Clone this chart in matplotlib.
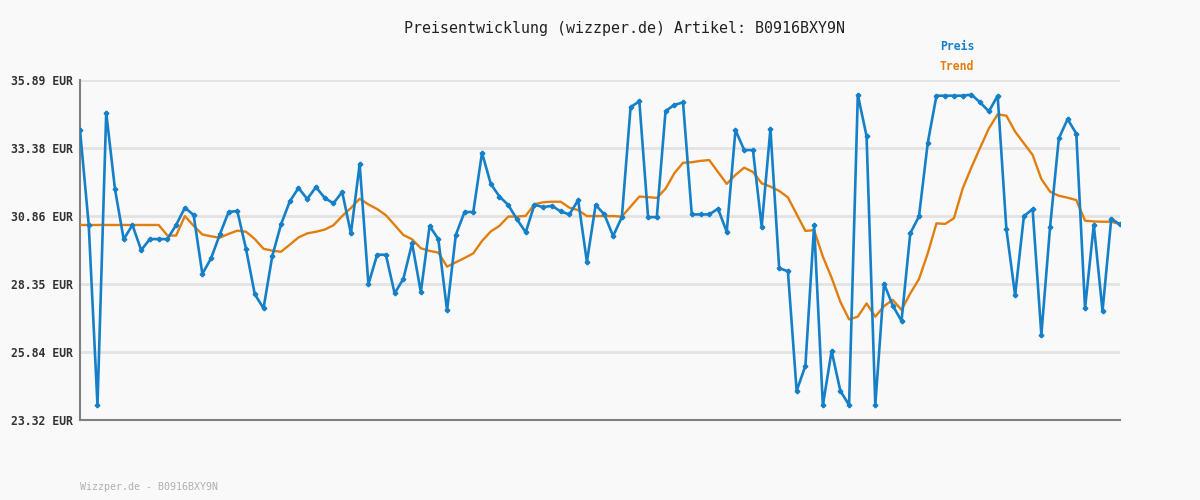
import matplotlib.pyplot as plt
import numpy as np

# price readings (EUR)
preis = [
    34.04, 30.53, 23.87, 34.68, 31.86, 30.00, 30.53, 29.60, 30.01, 30.01,
    30.01, 30.53, 31.17, 30.90, 28.72, 29.30, 30.18, 31.01, 31.05, 29.64,
    27.97, 27.45, 29.38, 30.55, 31.40, 31.90, 31.49, 31.93, 31.53, 31.33,
    31.75, 30.22, 32.78, 28.34, 29.43, 29.43, 28.00, 28.54, 29.85, 28.05,
    30.49, 30.01, 27.37, 30.16, 31.01, 31.01, 33.20, 32.05, 31.58, 31.27,
    30.74, 30.26, 31.28, 31.19, 31.24, 31.03, 30.92, 31.45, 29.17, 31.27,
    30.92, 30.12, 30.82, 34.89, 35.10, 30.82, 30.82, 34.74, 34.97, 35.06,
    30.92, 30.92, 30.92, 31.13, 30.28, 34.04, 33.30, 33.30, 30.47, 34.08,
    28.93, 28.82, 24.40, 25.32, 30.52, 23.86, 25.87, 24.40, 23.87, 35.34,
    33.82, 23.87, 28.36, 27.55, 26.98, 30.22, 30.85, 33.56, 35.31, 35.31,
    35.31, 35.31, 35.35, 35.06, 34.73, 35.31, 30.37, 27.93, 30.85, 31.12,
    26.47, 30.46, 33.73, 34.44, 33.91, 27.45, 30.54, 27.35, 30.76, 30.55,
]

trend = [
    30.53, 30.53, 30.53, 30.53, 30.53, 30.53, 30.53, 30.53, 30.53, 30.53,
    30.14, 30.14, 30.86, 30.50, 30.18, 30.11, 30.06, 30.20, 30.32, 30.28,
    30.01, 29.65, 29.58, 29.54, 29.80, 30.07, 30.22, 30.28, 30.36, 30.52,
    30.86, 31.16, 31.50, 31.29, 31.12, 30.89, 30.53, 30.16, 30.00, 29.67,
    29.57, 29.51, 28.99, 29.15, 29.31, 29.48, 29.94, 30.29, 30.50, 30.84,
    30.84, 30.87, 31.30, 31.37, 31.39, 31.39, 31.17, 31.08, 30.86, 30.86,
    30.86, 30.86, 30.84, 31.21, 31.58, 31.56, 31.53, 31.87, 32.44, 32.83,
    32.85, 32.90, 32.93, 32.49, 32.05, 32.38, 32.65, 32.49, 32.07, 31.95,
    31.79, 31.55, 30.93, 30.31, 30.34, 29.36, 28.58, 27.69, 27.04, 27.14,
    27.63, 27.14, 27.53, 27.76, 27.39, 28.00, 28.53, 29.48, 30.59, 30.57,
    30.78, 31.88, 32.66, 33.39, 34.10, 34.62, 34.57, 33.98, 33.55, 33.12,
    32.23, 31.76, 31.61, 31.54, 31.45, 30.69, 30.66, 30.65, 30.65, 30.56,
]

y_ticks = [23.32, 25.84, 28.35, 30.86, 33.38, 35.89]
title = "Preisentwicklung (wizzper.de) Artikel: B0916BXY9N"
footer = "Wizzper.de - B0916BXY9N"

blue = "#1580c8"
orange = "#e07f10"
bg = "#f9f9f9"
mono = "DejaVu Sans Mono"

fig = plt.figure(figsize=(12, 5), dpi=100, facecolor=bg)
ax = fig.add_axes([80 / 1200, 80 / 500, 1040 / 1200, 340 / 500], facecolor=bg)

x = np.arange(len(preis))
ax.plot(x, trend, color=orange, lw=1.7, zorder=3)
ax.plot(x, preis, color=blue, lw=1.9, marker="P", ms=3, zorder=4)

ax.set_xlim(0, len(preis) - 1)
ax.set_ylim(y_ticks[0], y_ticks[-1])
ax.set_yticks(y_ticks)
ax.set_yticklabels([f"{v:.2f} EUR" for v in y_ticks], fontfamily=mono,
                   fontsize=8.3, fontweight="bold", color="#333333")
ax.set_xticks([])
ax.tick_params(axis="y", length=0, pad=5)
ax.grid(axis="y", color="#e3e3e3", lw=2)
ax.set_axisbelow(True)

for side in ["top", "right"]:
    ax.spines[side].set_visible(False)
for side in ["left", "bottom"]:
    ax.spines[side].set_color("#808080")
    ax.spines[side].set_linewidth(1.5)

fig.text(624 / 1200, 1 - 28 / 500, title, ha="center", va="center",
         fontfamily=mono, fontsize=10.8, color="#222222")
fig.text(940 / 1200, 1 - 47 / 500, "Preis", ha="left", va="center",
         fontfamily=mono, fontsize=8.3, fontweight="bold", color=blue)
fig.text(940 / 1200, 1 - 67 / 500, "Trend", ha="left", va="center",
         fontfamily=mono, fontsize=8.3, fontweight="bold", color=orange)
fig.text(80 / 1200, 1 - 487 / 500, footer, ha="left", va="center",
         fontfamily=mono, fontsize=7.2, color="#b0b0b0")

fig.savefig("out.png", dpi=100, facecolor=bg)
